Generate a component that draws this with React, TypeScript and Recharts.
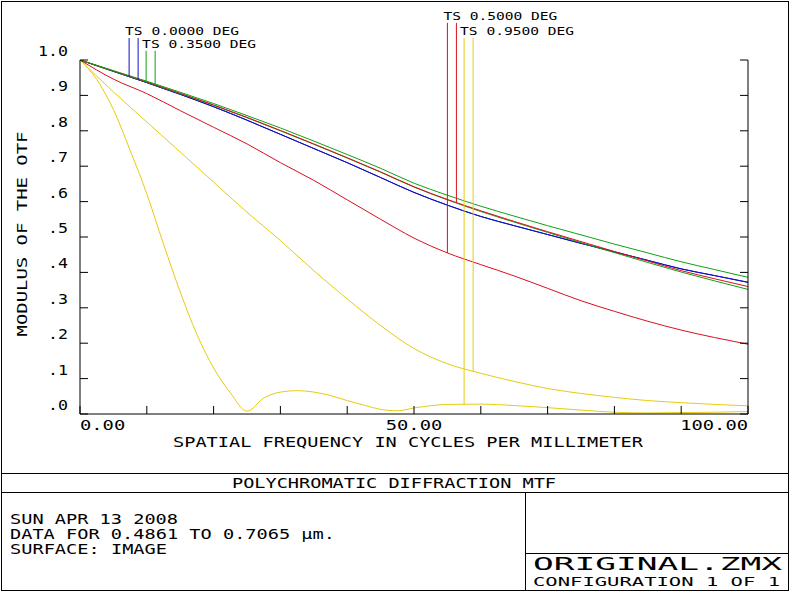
import React from "react";
import { LineChart, Line, XAxis, YAxis, ReferenceLine } from "recharts";

const FONT = '"DejaVu Sans Mono", monospace';
const BLUE = "#1010c0";
const GREEN = "#10a010";
const RED = "#d81020";
const YELLOW = "#e6cc10";

// spatial frequency (cycles/mm)
const FREQ = [0, 5, 10, 15, 20, 25, 30, 35, 40, 45, 50, 55, 60, 65, 70, 75, 80, 85, 90, 95, 100];

// 0.0000 deg: on axis T and S are the same
const BLUE_T = [1, 0.968, 0.936, 0.903, 0.868, 0.83, 0.79, 0.75, 0.71, 0.668, 0.626, 0.59, 0.558, 0.532, 0.507, 0.482, 0.458, 0.434, 0.41, 0.391, 0.372];
const BLUE_S = BLUE_T;
// 0.3500 deg
const GREEN_T = [1, 0.968, 0.937, 0.905, 0.872, 0.837, 0.8, 0.762, 0.723, 0.683, 0.641, 0.605, 0.572, 0.542, 0.513, 0.484, 0.456, 0.428, 0.401, 0.376, 0.352];
const GREEN_S = [1, 0.97, 0.94, 0.909, 0.877, 0.843, 0.808, 0.771, 0.733, 0.694, 0.652, 0.618, 0.587, 0.559, 0.532, 0.506, 0.48, 0.455, 0.43, 0.408, 0.386];
// 0.5000 deg
const RED_T = [1, 0.946, 0.905, 0.857, 0.81, 0.763, 0.71, 0.66, 0.605, 0.55, 0.497, 0.455, 0.422, 0.39, 0.355, 0.32, 0.29, 0.262, 0.237, 0.216, 0.197];
const RED_S = [1, 0.969, 0.938, 0.906, 0.873, 0.838, 0.801, 0.763, 0.724, 0.684, 0.642, 0.606, 0.574, 0.544, 0.515, 0.487, 0.459, 0.432, 0.405, 0.382, 0.36];
// 0.9500 deg
const YELLOW_S = [1, 0.91, 0.825, 0.74, 0.655, 0.57, 0.49, 0.405, 0.325, 0.25, 0.185, 0.142, 0.115, 0.092, 0.072, 0.058, 0.047, 0.038, 0.032, 0.027, 0.023];
const YELLOW_T_FREQ = [0, 2.5, 5, 7.5, 10, 12.5, 15, 17.5, 20, 22.5, 25, 27.5, 30, 32.5, 35, 37.5, 40, 42.5, 45, 47.5, 50, 55, 60, 65, 70, 75, 80, 85, 90, 95, 100];
const YELLOW_T = [1, 0.945, 0.86, 0.745, 0.622, 0.48, 0.345, 0.225, 0.13, 0.06, 0.008, 0.045, 0.062, 0.066, 0.062, 0.052, 0.038, 0.025, 0.013, 0.009, 0.017, 0.027, 0.028, 0.024, 0.018, 0.011, 0.005, 0.003, 0.004, 0.005, 0.007];

const X_TICKS = [0, 10, 20, 30, 40, 50, 60, 70, 80, 90, 100];
const X_TICK_LABELS: Record<number, string> = { 0: "0.00", 50: "50.00", 100: "100.00" };
const Y_TICKS = [0, 0.1, 0.2, 0.3, 0.4, 0.5, 0.6, 0.7, 0.8, 0.9, 1];
const Y_TICK_LABELS = [".0", ".1", ".2", ".3", ".4", ".5", ".6", ".7", ".8", ".9", "1.0"];

type Curve = { fs: number[]; vs: number[] };
const pts = (c: Curve) => c.fs.map((f, i) => ({ f, v: c.vs[i] }));

const blueT = { fs: FREQ, vs: BLUE_T };
const blueS = { fs: FREQ, vs: BLUE_S };
const greenT = { fs: FREQ, vs: GREEN_T };
const greenS = { fs: FREQ, vs: GREEN_S };
const redT = { fs: FREQ, vs: RED_T };
const redS = { fs: FREQ, vs: RED_S };
const yellowT = { fs: YELLOW_T_FREQ, vs: YELLOW_T };
const yellowS = { fs: FREQ, vs: YELLOW_S };

// field legend markers: frequency where each T/S pointer drops, top of pointer (in MTF units)
const MARKERS = [
  { label: "TS 0.0000 DEG", color: BLUE, freqs: [7.35, 8.7], curves: [blueT, blueS], top: 1.062 },
  { label: "TS 0.3500 DEG", color: GREEN, freqs: [9.9, 11.25], curves: [greenT, greenS], top: 1.026 },
  { label: "TS 0.5000 DEG", color: RED, freqs: [55.0, 56.35], curves: [redT, redS], top: 1.105 },
  { label: "TS 0.9500 DEG", color: YELLOW, freqs: [57.5, 58.85], curves: [yellowT, yellowS], top: 1.062 },
];

function interp(c: Curve, f: number) {
  for (let i = 1; i < c.fs.length; i++) {
    if (f <= c.fs[i]) {
      const t = (f - c.fs[i - 1]) / (c.fs[i] - c.fs[i - 1]);
      return c.vs[i - 1] + t * (c.vs[i] - c.vs[i - 1]);
    }
  }
  return c.vs[c.vs.length - 1];
}

const txt = { fontFamily: FONT, fontSize: 14, fill: "#000" };

const BottomTick = (props: any) => {
  const { x, y, payload } = props;
  const lbl = X_TICK_LABELS[payload.value];
  const anchor = payload.value === 0 ? "start" : payload.value === 100 ? "end" : "middle";
  return (
    <g>
      <line x1={x} x2={x} y1={y} y2={y - 8} stroke="#000" />
      {lbl && (
        <text x={x} y={y + 16} textAnchor={anchor} textLength={lbl.length * 11.3} lengthAdjust="spacingAndGlyphs" {...txt}>
          {lbl}
        </text>
      )}
    </g>
  );
};

const TopTick = (props: any) => {
  const { x, y } = props;
  return <line x1={x} x2={x} y1={y} y2={y + 8} stroke="#000" />;
};

const LeftTick = (props: any) => {
  const { x, y, index } = props;
  const lbl = Y_TICK_LABELS[index];
  return (
    <g>
      <line x1={x} x2={x + 8} y1={y} y2={y} stroke="#000" />
      <text x={x - 12} y={y - 4} textAnchor="end" textLength={lbl.length * 10} lengthAdjust="spacingAndGlyphs" {...txt}>
        {lbl}
      </text>
    </g>
  );
};

const RightTick = (props: any) => {
  const { x, y } = props;
  return <line x1={x} x2={x - 8} y1={y} y2={y} stroke="#000" />;
};

const MarkerLabel = (props: any) => {
  const { viewBox, text } = props;
  if (!viewBox) return null;
  return (
    <text x={viewBox.x - 4} y={viewBox.y - 3} textLength={114} lengthAdjust="spacingAndGlyphs" fontFamily={FONT} fontSize={11} fill="#000">
      {text}
    </text>
  );
};

const T = (p: { x: number; y: number; len: number; children: string; anchor?: string; size?: number; rot?: boolean }) => (
  <text
    x={p.x}
    y={p.y}
    textAnchor={(p.anchor as any) || "start"}
    textLength={p.len}
    lengthAdjust="spacingAndGlyphs"
    fontFamily={FONT}
    fontSize={p.size || 14}
    fill="#000"
    transform={p.rot ? `rotate(-90 ${p.x} ${p.y})` : undefined}
  >
    {p.children}
  </text>
);

export default function App() {
  const series = [
    { c: yellowS, color: YELLOW },
    { c: yellowT, color: YELLOW },
    { c: redT, color: RED },
    { c: blueT, color: BLUE },
    { c: blueS, color: BLUE },
    { c: greenT, color: GREEN },
    { c: redS, color: RED },
    { c: greenS, color: GREEN },
  ];
  return (
    <div style={{ position: "absolute", left: 0, top: 0, width: 792, height: 592, background: "#fff" }}>
      <svg width={792} height={592} style={{ position: "absolute", left: 0, top: 0 }}>
        <rect x={1.5} y={1.5} width={787} height={589} fill="none" stroke="#000" />
        <line x1={1.5} x2={788.5} y1={473.5} y2={473.5} stroke="#000" />
        <line x1={1.5} x2={788.5} y1={492.5} y2={492.5} stroke="#000" />
        <line x1={525.5} x2={525.5} y1={492.5} y2={590.5} stroke="#000" />
        <line x1={525.5} x2={788.5} y1={553.5} y2={553.5} stroke="#000" />
        <T x={408} y={447} len={470} anchor="middle">SPATIAL FREQUENCY IN CYCLES PER MILLIMETER</T>
        <T x={27} y={234} len={205} anchor="middle" rot>MODULUS OF THE OTF</T>
        <T x={394} y={488} len={324} anchor="middle">POLYCHROMATIC DIFFRACTION MTF</T>
        <T x={10} y={524} len={168}>SUN APR 13 2008</T>
        <T x={10} y={539} len={325}>DATA FOR 0.4861 TO 0.7065 µm.</T>
        <T x={10} y={554} len={157}>SURFACE: IMAGE</T>
        <T x={533} y={570} len={249} size={17}>ORIGINAL.ZMX</T>
        <T x={533} y={586} len={247} size={13}>CONFIGURATION 1 OF 1</T>
      </svg>
      <div style={{ position: "absolute", left: 0, top: 0 }}>
        <LineChart width={792} height={592} margin={{ top: 60, right: 0, bottom: 0, left: 0 }}>
          <XAxis xAxisId="b" type="number" dataKey="f" domain={[0, 100]} ticks={X_TICKS} interval={0} orientation="bottom" height={178} tickSize={0} tickMargin={0} tickLine={false} tick={<BottomTick />} axisLine={{ stroke: "#000" }} allowDataOverflow />
          <XAxis xAxisId="t" type="number" dataKey="f" domain={[0, 100]} ticks={X_TICKS} interval={0} orientation="top" height={0} tickSize={0} tickMargin={0} tickLine={false} tick={<TopTick />} axisLine={{ stroke: "#000" }} allowDataOverflow />
          <YAxis yAxisId="l" type="number" domain={[0, 1]} ticks={Y_TICKS} interval={0} width={80} tickSize={0} tickMargin={0} tickLine={false} tick={<LeftTick />} axisLine={{ stroke: "#000" }} allowDataOverflow />
          <YAxis yAxisId="r" type="number" orientation="right" domain={[0, 1]} ticks={Y_TICKS} interval={0} width={44} tickSize={0} tickMargin={0} tickLine={false} tick={<RightTick />} axisLine={{ stroke: "#000" }} allowDataOverflow />
          {series.map((s, i) => (
            <Line
              key={i}
              xAxisId="b"
              yAxisId="l"
              data={pts(s.c)}
              dataKey="v"
              type="monotone"
              stroke={s.color}
              strokeWidth={1}
              dot={false}
              activeDot={false}
              isAnimationActive={false}
            />
          ))}
          {MARKERS.flatMap((m) =>
            m.freqs.map((f, j) => (
              <ReferenceLine
                key={m.label + j}
                xAxisId="b"
                yAxisId="l"
                ifOverflow="visible"
                stroke={m.color}
                strokeWidth={1}
                segment={[
                  { x: f, y: interp(m.curves[j], f) },
                  { x: f, y: m.top },
                ]}
                label={j === 0 ? <MarkerLabel text={m.label} /> : undefined}
              />
            ))
          )}
        </LineChart>
      </div>
    </div>
  );
}
